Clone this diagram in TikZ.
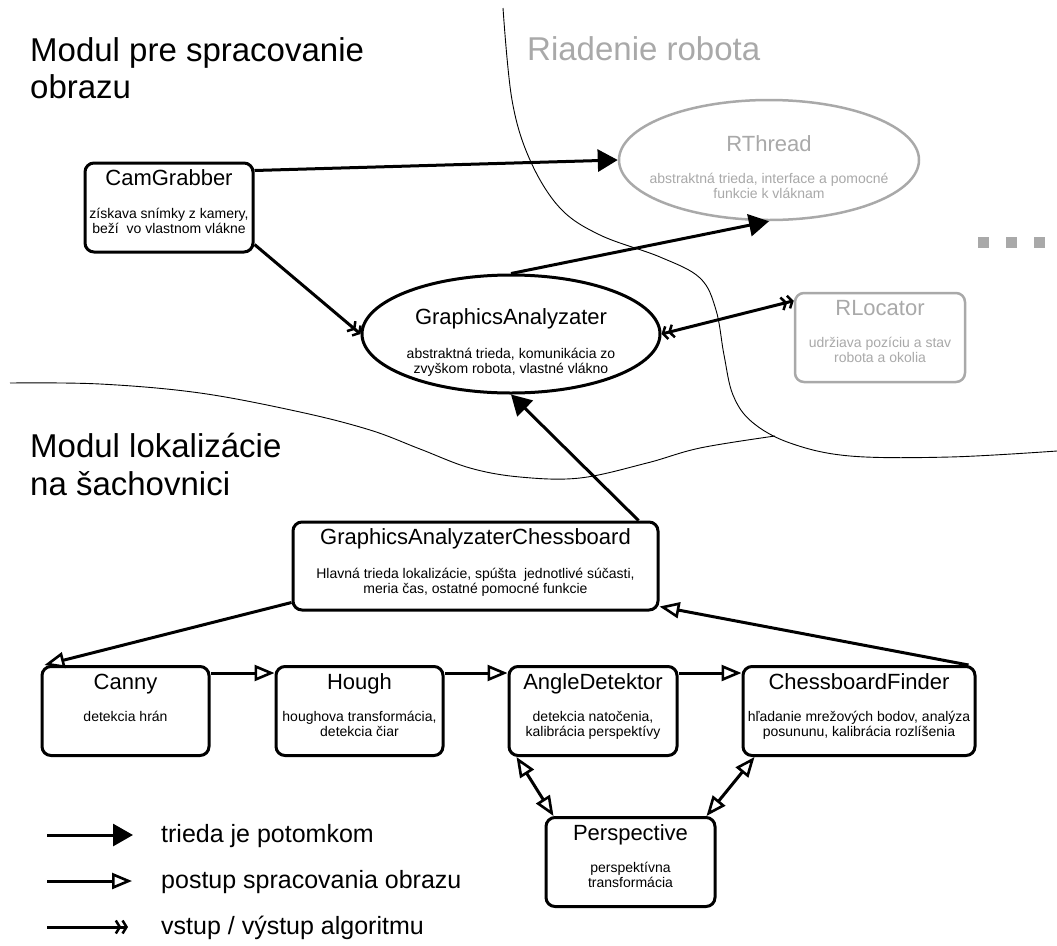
\documentclass[tikz,border=0pt]{standalone}
\usepackage{fontspec}
\setmainfont{Liberation Sans}
\usetikzlibrary{arrows.meta, shapes.geometric, positioning}
\definecolor{faded}{HTML}{A9A9A9}

\begin{document}
\begin{tikzpicture}[x=1pt, y=-1pt, line join=round,
    cls/.style={draw, line width=3pt, rounded corners=9pt, fill=white, minimum height=89pt, inner sep=0pt},
    ellcls/.style={draw, ellipse, line width=3pt, fill=white, inner sep=0pt},
    ttl/.style={font=\fontsize{22}{26}\selectfont, inner sep=0pt, anchor=base},
    dsc/.style={font=\fontsize{14}{15}\selectfont, inner sep=0pt, anchor=north, align=center},
    region/.style={font=\fontsize{33}{38}\selectfont, inner sep=0pt, anchor=base west},
    key/.style={font=\fontsize{25}{30}\selectfont, inner sep=0pt, anchor=base west},
    dim/.style={draw=faded, text=faded, line width=2.5pt},
    border/.style={line width=0.9pt},
    more/.style={fill=faded, minimum size=11pt, inner sep=0pt},
    inherit/.style={line width=3pt, -{Triangle[length=20pt,width=22pt]}},
    flow/.style={line width=3pt, -{Triangle[open,length=20pt,width=16pt,line width=2.6pt]}},
    flowboth/.style={line width=3pt, {Triangle[open,length=20pt,width=16pt,line width=2.6pt]}-{Triangle[open,length=20pt,width=16pt,line width=2.6pt]}},
    io/.style={line width=3pt, -{Straight Barb[length=4pt,width=13pt,line width=2.5pt] Straight Barb[length=4pt,width=13pt,line width=2.5pt]}},
    ioboth/.style={line width=3pt, {Straight Barb[length=4pt,width=13pt,line width=2.5pt] Straight Barb[length=4pt,width=13pt,line width=2.5pt]}-{Straight Barb[length=4pt,width=13pt,line width=2.5pt] Straight Barb[length=4pt,width=13pt,line width=2.5pt]}}]
    \useasboundingbox (0,0) rectangle (1057,945);

    % Module borders
    \draw[border] plot[smooth, tension=0.6] coordinates {(503,8) (512,100) (530,160) (560,208) (600,235) (660,257) (700,278) (716,310) (724,355) (733,395) (752,422) (790,443) (850,456) (950,457) (1057,451)};
    \draw[border] plot[smooth, tension=0.6] coordinates {(10,383) (100,384) (200,393) (300,412) (370,430) (420,449) (470,468) (520,477) (580,478) (647,463) (700,448) (775,436)};

    % Module titles
    \node[region] (img1) at (30,61) {Modul pre spracovanie};
    \node[region] (img2) at (30,98) {obrazu};
    \node[region, text=faded] (robot) at (527,60) {Riadenie robota};
    \node[region] (loc1) at (30,457) {Modul lokalizácie};
    \node[region] (loc2) at (30,495) {na šachovnici};

    % Image processing
    \node[cls, minimum width=168pt] (cam) at (169,207.5) {};
    \node[ttl] (cam-t) at ([yshift=-24pt]cam.north) {CamGrabber};
    \node[dsc] (cam-d) at ([yshift=-46pt]cam.north) {získava snímky z kamery,\\beží\ \ vo vlastnom vlákne};

    \node[ellcls, minimum width=298pt, minimum height=118pt] (ga) at (511,334) {};
    \node[ttl] (ga-t) at ([yshift=10pt]ga.center) {GraphicsAnalyzater};
    \node[dsc] (ga-d) at ([yshift=-14pt]ga.center) {abstraktná trieda, komunikácia zo\\zvyškom robota, vlastné vlákno};

    % Robot control
    \node[ellcls, dim, minimum width=300pt, minimum height=120pt] (rthread) at (769,160) {};
    \node[ttl, text=faded] (rthread-t) at ([yshift=9pt]rthread.center) {RThread};
    \node[dsc, text=faded] (rthread-d) at ([yshift=-13pt]rthread.center) {abstraktná trieda, interface a pomocné\\funkcie k vláknam};

    \node[cls, dim, minimum width=170pt] (rloc) at (880,337.5) {};
    \node[ttl, text=faded] (rloc-t) at ([yshift=-24pt]rloc.north) {RLocator};
    \node[dsc, text=faded] (rloc-d) at ([yshift=-45pt]rloc.north) {udržiava pozíciu a stav\\robota a okolia};

    \foreach \i/\x in {1/983, 2/1011, 3/1039}
        \node[more] (more\i) at (\x,242) {};

    % Chessboard localization
    \node[cls, minimum width=365pt, minimum height=88pt] (gac) at (475.5,566) {};
    \node[ttl] (gac-t) at ([yshift=-24pt]gac.north) {GraphicsAnalyzaterChessboard};
    \node[dsc] (gac-d) at ([yshift=-47pt]gac.north) {Hlavná trieda lokalizácie, spúšta\ \ jednotlivé súčasti,\\meria čas, ostatné pomocné funkcie};

    \node[cls, minimum width=167pt] (canny) at (125.5,711) {};
    \node[cls, minimum width=167pt, right=64pt of canny] (hough) {};
    \node[cls, minimum width=168pt, right=63pt of hough] (ad) {};
    \node[cls, minimum width=232pt, right=63pt of ad] (cf) {};
    \node[cls, minimum width=169pt] (persp) at (630.5,862) {};

    \node[ttl] (canny-t) at ([yshift=-24pt]canny.north) {Canny};
    \node[dsc] (canny-d) at ([yshift=-46pt]canny.north) {detekcia hrán};
    \node[ttl] (hough-t) at ([yshift=-24pt]hough.north) {Hough};
    \node[dsc] (hough-d) at ([yshift=-46pt]hough.north) {houghova transformácia,\\detekcia čiar};
    \node[ttl] (ad-t) at ([yshift=-24pt]ad.north) {AngleDetektor};
    \node[dsc] (ad-d) at ([yshift=-46pt]ad.north) {detekcia natočenia,\\kalibrácia perspektívy};
    \node[ttl] (cf-t) at ([yshift=-24pt]cf.north) {ChessboardFinder};
    \node[dsc] (cf-d) at ([yshift=-46pt]cf.north) {hľadanie mrežových bodov, analýza\\posununu, kalibrácia rozlíšenia};
    \node[ttl] (persp-t) at ([yshift=-24pt]persp.north) {Perspective};
    \node[dsc] (persp-d) at ([yshift=-46pt]persp.north) {perspektívna\\transformácia};

    % Connections
    \draw[inherit] ([yshift=-9pt]cam.north east) -- (rthread.west);
    \draw[inherit] (ga.north) -- (rthread.south);
    \draw[io] ([yshift=9pt]cam.south east) -- (ga.west);
    \draw[ioboth] (ga.east) -- ([yshift=-9pt]rloc.north west);
    \draw[inherit] ([xshift=-21pt]gac.north east) -- (ga.south);
    \draw[flow] ([yshift=9pt]gac.south west) -- ([xshift=4pt]canny.north west);
    \draw[flow] ([xshift=-8pt]cf.north east) -- ([yshift=5pt]gac.south east);
    \draw[flow] ([yshift=-8pt]canny.north east) -- ([yshift=-8pt]hough.north west);
    \draw[flow] ([yshift=-8pt]hough.north east) -- ([yshift=-8pt]ad.north west);
    \draw[flow] ([yshift=-8pt]ad.north east) -- ([yshift=-8pt]cf.north west);
    \draw[flowboth] ([xshift=9pt]ad.south west) -- ([xshift=9pt]persp.north west);
    \draw[flowboth] ([xshift=13pt]cf.south west) -- ([xshift=-10pt]persp.north east);

    % Legend
    \coordinate (k1) at (47,835);
    \coordinate (k1e) at (133,835);
    \coordinate (k2) at (47,881);
    \coordinate (k2e) at (132,881);
    \coordinate (k3) at (47,927);
    \coordinate (k3e) at (128,927);
    \draw[inherit] (k1) -- (k1e);
    \draw[flow] (k2) -- (k2e);
    \draw[io] (k3) -- (k3e);
    \node[key] (k1-t) at (161,842) {trieda je potomkom};
    \node[key] (k2-t) at (161,888) {postup spracovania obrazu};
    \node[key] (k3-t) at (161,934) {vstup / výstup algoritmu};
\end{tikzpicture}
\end{document}
